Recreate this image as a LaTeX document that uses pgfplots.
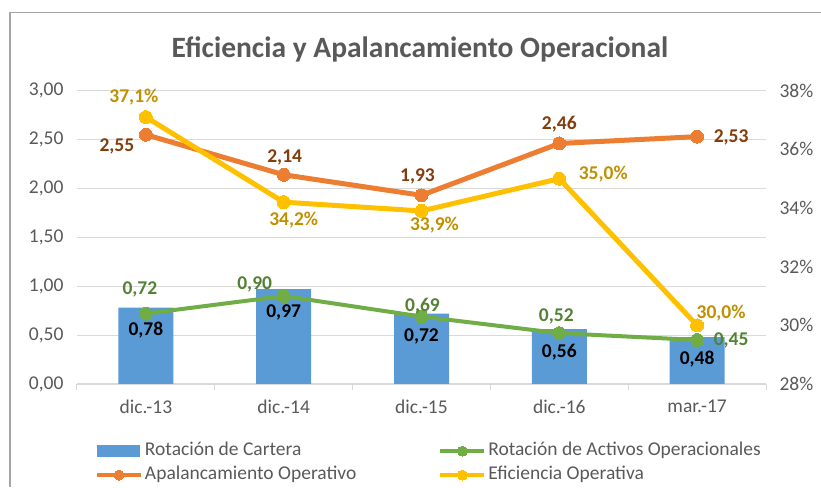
\documentclass[border=0pt]{standalone}
\usepackage{pgfplots}
\usepackage{pgfplotstable}
\pgfplotsset{compat=1.18}
\usepackage{fontspec}
\setmainfont{Carlito}
\definecolor{barblue}{HTML}{5B9BD5}
\definecolor{lorange}{HTML}{ED7D31}
\definecolor{lgreen}{HTML}{70AD47}
\definecolor{lyellow}{HTML}{FFC000}
\definecolor{txtgray}{HTML}{595959}
\definecolor{gridgray}{HTML}{D9D9D9}
\definecolor{bordergray}{HTML}{A6A6A6}
\definecolor{lblorange}{HTML}{843C0C}
\definecolor{lblyellow}{HTML}{BF9000}
\definecolor{lblgreen}{HTML}{548235}

% Rotacion de Cartera (bars)
\pgfplotstableread{
x y dx dy
0 0.78 0 -22
1 0.97 0 -23
2 0.72 0 -23
3 0.56 0 -23
4 0.48 0 -22
}\bardata
% Rotacion de Activos Operacionales
\pgfplotstableread{
x y dx dy
0 0.72 -6 24
1 0.90 -29 12
2 0.69 1 10
3 0.52 -3 17
4 0.45 34 0
}\greendata
% Apalancamiento Operativo
\pgfplotstableread{
x y dx dy
0 2.55 -29 -12
1 2.14 1 17
2 1.93 -4 19
3 2.46 0 19
4 2.53 34 -1
}\orangedata
% Eficiencia Operativa (%)
\pgfplotstableread{
x y dx dy
0 37.1 -12 20
1 34.2 10 -18
2 33.9 13 -14
3 35.0 44 5
4 30.0 24 12
}\yellowdata

\pgfplotsset{
  /pgf/number format/assume math mode=true,
  base/.style={
    width=689pt, height=293.3pt, scale only axis,
    at={(77pt,103pt)}, anchor=south west,
    xmin=-0.5, xmax=4.5,
    tick label style={font=\fontsize{19.5}{22}\selectfont, text=txtgray},
  },
  lbl/.style={
    visualization depends on={\thisrow{dx} \as \mydx},
    visualization depends on={\thisrow{dy} \as \mydy},
    every node near coord/.append style={anchor=center, xshift=\mydx pt, yshift=\mydy pt,
      font=\bfseries\fontsize{19.5}{22}\selectfont, text=#1},
  },
  lineleg/.style={legend image code/.code={\draw[mark repeat=2,mark phase=2,##1, mark size=5pt, line width=4pt] plot coordinates {(0pt,0pt) (22pt,0pt) (44pt,0pt)};}},
  barleg/.style={legend image code/.code={\fill[barblue] (0pt,-5.5pt) rectangle (42pt,5.5pt);}},
}

\begin{document}
\begin{tikzpicture}[x=1pt,y=1pt]
\useasboundingbox (0,0) rectangle (821,487);
\draw[bordergray, line width=1.2pt] (10,0) -- (10,474.5) -- (821,474.5);
\node[font=\bfseries\fontsize{29.5}{34}\selectfont, text=txtgray] at (420,438) {Eficiencia y Apalancamiento Operacional};

\begin{axis}[base,
  ymin=0, ymax=3, ytick={0,0.5,...,3},
  axis x line*=bottom, axis y line*=left,
  y axis line style={draw=none},
  x axis line style={draw=gridgray, line width=1pt},
  xtick={0,...,4}, xticklabels={dic.-13,dic.-14,dic.-15,dic.-16,mar.-17},
  minor xtick={-0.5,0.5,1.5,2.5,3.5,4.5},
  major tick length=0pt, minor tick length=6pt, tick align=outside,
  minor x tick style={draw=gridgray, line width=1pt},
  ytick style={draw=none},
  ymajorgrids, grid style={draw=gridgray, line width=0.9pt},
  yticklabel style={xshift=-10pt, /pgf/number format/.cd, fixed, fixed zerofill, precision=2, use comma},
  xticklabel style={yshift=-12pt},
]
\addplot[ybar, bar width=55pt, fill=barblue, draw=none, lbl=black,
  nodes near coords={\pgfmathprintnumber[fixed,fixed zerofill,precision=2,use comma]{\pgfplotspointmeta}}]
  table[x=x,y=y] \bardata;
\addplot[lgreen, line width=4pt, mark=*, mark size=6.5pt, mark options={solid, fill=lgreen, draw=lgreen, line width=0pt}, lbl=lblgreen,
  nodes near coords={\pgfmathprintnumber[fixed,fixed zerofill,precision=2,use comma]{\pgfplotspointmeta}}]
  table[x=x,y=y] \greendata;
\addplot[lorange, line width=5pt, mark=*, mark size=6.5pt, mark options={solid, fill=lorange, draw=lorange, line width=0pt}, lbl=lblorange,
  nodes near coords={\pgfmathprintnumber[fixed,fixed zerofill,precision=2,use comma]{\pgfplotspointmeta}}]
  table[x=x,y=y] \orangedata;
\end{axis}

\begin{axis}[base,
  ymin=28, ymax=38, ytick={28,30,...,38},
  axis x line=none, axis y line*=right,
  y axis line style={draw=none}, ytick style={draw=none},
  major tick length=0pt,
  yticklabel={\pgfmathprintnumber{\tick}\%},
  yticklabel style={xshift=10pt},
  legend columns=2,
  legend cell align=left,
  legend style={at={(0.0261,-0.193)}, anchor=north west, draw=none, fill=none,
    inner sep=0pt, outer sep=0pt, row sep=3pt,
    font=\fontsize{19.5}{21}\selectfont, text=txtgray,
    nodes={inner sep=2pt, text height=13pt, text depth=4pt},
    /tikz/column 2/.style={column sep=80pt}},
]
\addlegendimage{barleg}
\addlegendimage{lgreen, mark=*, mark options={solid, fill=lgreen, draw=lgreen, line width=0pt}, lineleg}
\addlegendimage{lorange, mark=*, mark options={solid, fill=lorange, draw=lorange, line width=0pt}, lineleg}
\addplot[lyellow, line width=5pt, mark=*, mark size=6.5pt, mark options={solid, fill=lyellow, draw=lyellow, line width=0pt}, lbl=lblyellow,
  nodes near coords={\pgfmathprintnumber[fixed,fixed zerofill,precision=1,use comma]{\pgfplotspointmeta}\%},
  lineleg]
  table[x=x,y=y] \yellowdata;
\legend{Rotación de Cartera, Rotación de Activos Operacionales, Apalancamiento Operativo, Eficiencia Operativa}
\end{axis}
\end{tikzpicture}
\end{document}
